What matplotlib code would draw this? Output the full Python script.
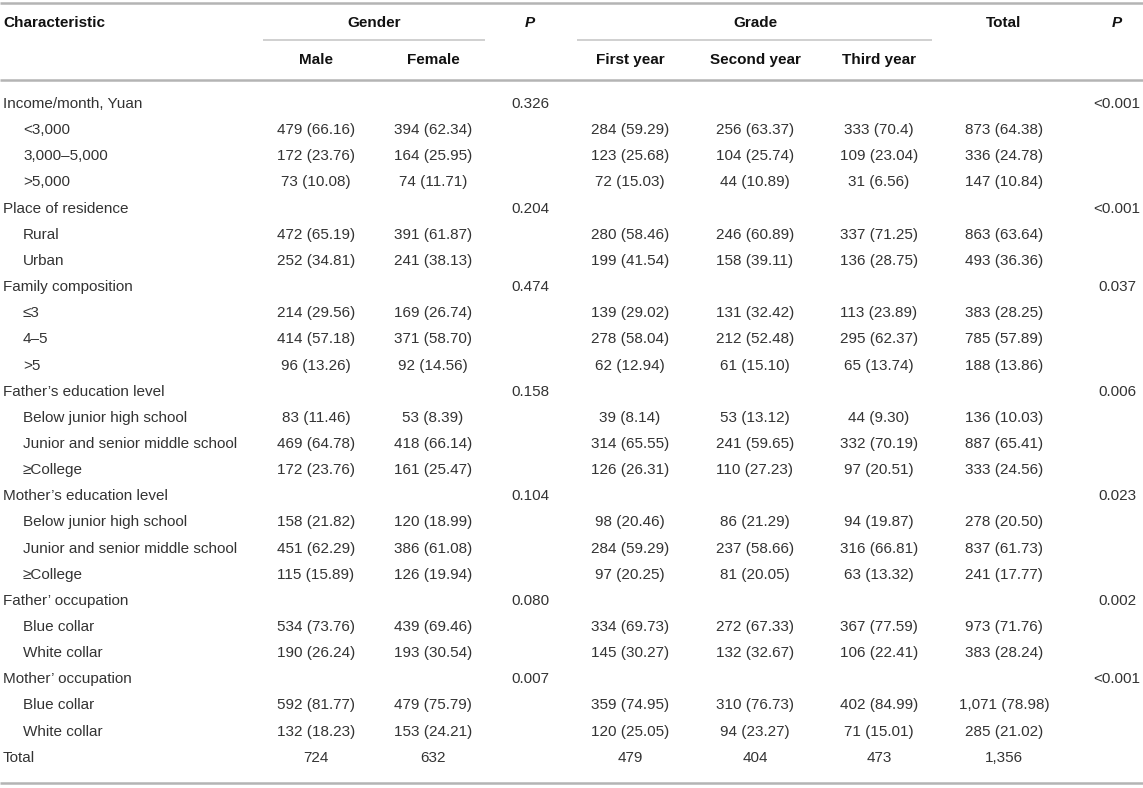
import matplotlib
matplotlib.use('Agg')
import matplotlib.pyplot as plt

plt.rcParams['font.family'] = ['Liberation Sans', 'DejaVu Sans']

# ── 표 데이터 ─────────────────────────────────────────────
labels = [
    "Income/month, Yuan", "<3,000", "3,000–5,000", ">5,000",
    "Place of residence", "Rural", "Urban",
    "Family composition", "≤3", "4–5", ">5",
    "Father’s education level", "Below junior high school",
    "Junior and senior middle school", "≥College",
    "Mother’s education level", "Below junior high school",
    "Junior and senior middle school", "≥College",
    "Father’ occupation", "Blue collar", "White collar",
    "Mother’ occupation", "Blue collar", "White collar",
    "Total",
]
# 0 = 항목 제목, 1 = 하위 항목(들여쓰기)
indent = [0, 1, 1, 1, 0, 1, 1, 0, 1, 1, 1, 0, 1, 1, 1,
          0, 1, 1, 1, 0, 1, 1, 0, 1, 1, 0]

male = ["", "479 (66.16)", "172 (23.76)", "73 (10.08)",
        "", "472 (65.19)", "252 (34.81)",
        "", "214 (29.56)", "414 (57.18)", "96 (13.26)",
        "", "83 (11.46)", "469 (64.78)", "172 (23.76)",
        "", "158 (21.82)", "451 (62.29)", "115 (15.89)",
        "", "534 (73.76)", "190 (26.24)",
        "", "592 (81.77)", "132 (18.23)",
        "724"]
female = ["", "394 (62.34)", "164 (25.95)", "74 (11.71)",
          "", "391 (61.87)", "241 (38.13)",
          "", "169 (26.74)", "371 (58.70)", "92 (14.56)",
          "", "53 (8.39)", "418 (66.14)", "161 (25.47)",
          "", "120 (18.99)", "386 (61.08)", "126 (19.94)",
          "", "439 (69.46)", "193 (30.54)",
          "", "479 (75.79)", "153 (24.21)",
          "632"]
p_gender = ["0.326", "", "", "",
            "0.204", "", "",
            "0.474", "", "", "",
            "0.158", "", "", "",
            "0.104", "", "", "",
            "0.080", "", "",
            "0.007", "", "",
            ""]
first_year = ["", "284 (59.29)", "123 (25.68)", "72 (15.03)",
              "", "280 (58.46)", "199 (41.54)",
              "", "139 (29.02)", "278 (58.04)", "62 (12.94)",
              "", "39 (8.14)", "314 (65.55)", "126 (26.31)",
              "", "98 (20.46)", "284 (59.29)", "97 (20.25)",
              "", "334 (69.73)", "145 (30.27)",
              "", "359 (74.95)", "120 (25.05)",
              "479"]
second_year = ["", "256 (63.37)", "104 (25.74)", "44 (10.89)",
               "", "246 (60.89)", "158 (39.11)",
               "", "131 (32.42)", "212 (52.48)", "61 (15.10)",
               "", "53 (13.12)", "241 (59.65)", "110 (27.23)",
               "", "86 (21.29)", "237 (58.66)", "81 (20.05)",
               "", "272 (67.33)", "132 (32.67)",
               "", "310 (76.73)", "94 (23.27)",
               "404"]
third_year = ["", "333 (70.4)", "109 (23.04)", "31 (6.56)",
              "", "337 (71.25)", "136 (28.75)",
              "", "113 (23.89)", "295 (62.37)", "65 (13.74)",
              "", "44 (9.30)", "332 (70.19)", "97 (20.51)",
              "", "94 (19.87)", "316 (66.81)", "63 (13.32)",
              "", "367 (77.59)", "106 (22.41)",
              "", "402 (84.99)", "71 (15.01)",
              "473"]
total = ["", "873 (64.38)", "336 (24.78)", "147 (10.84)",
         "", "863 (63.64)", "493 (36.36)",
         "", "383 (28.25)", "785 (57.89)", "188 (13.86)",
         "", "136 (10.03)", "887 (65.41)", "333 (24.56)",
         "", "278 (20.50)", "837 (61.73)", "241 (17.77)",
         "", "973 (71.76)", "383 (28.24)",
         "", "1,071 (78.98)", "285 (21.02)",
         "1,356"]
p_grade = ["<0.001", "", "", "",
           "<0.001", "", "",
           "0.037", "", "", "",
           "0.006", "", "", "",
           "0.023", "", "", "",
           "0.002", "", "",
           "<0.001", "", "",
           ""]

# ── 레이아웃 (픽셀 좌표) ──────────────────────────────────
W, H = 1143, 788
FS = 11
BODY = '#333333'
HEAD = '#111111'
LINE = '#b4b4b4'

col_x = {
    'male': 316, 'female': 433, 'p1': 530,
    'first': 630, 'second': 755, 'third': 879,
    'total': 1004, 'p2': 1117,
}
row_y0, row_dy = 104, 26.15

fig = plt.figure(figsize=(W / 100, H / 100), dpi=100)
ax = fig.add_axes([0, 0, 1, 1])
ax.set_xlim(0, W)
ax.set_ylim(H, 0)
ax.axis('off')

# 헤더
hb = dict(fontsize=FS, fontweight='bold', color=HEAD, va='center')
ax.text(3, 23, "Characteristic", ha='left', **hb)
ax.text(374, 23, "Gender", ha='center', **hb)
ax.text(col_x['p1'], 23, "P", ha='center', style='italic', **hb)
ax.text(755, 23, "Grade", ha='center', **hb)
ax.text(col_x['total'], 23, "Total", ha='center', **hb)
ax.text(col_x['p2'], 23, "P", ha='center', style='italic', **hb)
for key, name in [('male', "Male"), ('female', "Female"),
                  ('first', "First year"), ('second', "Second year"),
                  ('third', "Third year")]:
    ax.text(col_x[key], 60, name, ha='center', **hb)

# 가로선
ax.plot([0, W], [3, 3], color=LINE, lw=1.8, solid_capstyle='butt')
ax.plot([0, W], [80, 80], color=LINE, lw=1.8, solid_capstyle='butt')
ax.plot([263, 485], [40, 40], color='#c4c4c4', lw=1.1, solid_capstyle='butt')
ax.plot([577, 932], [40, 40], color='#c4c4c4', lw=1.1, solid_capstyle='butt')

# 본문
columns = [('male', male), ('female', female), ('p1', p_gender),
           ('first', first_year), ('second', second_year),
           ('third', third_year), ('total', total), ('p2', p_grade)]
for i, label in enumerate(labels):
    y = row_y0 + i * row_dy
    ax.text(3 + 20 * indent[i], y, label, ha='left', va='center',
            fontsize=FS, color=BODY)
    for key, values in columns:
        if values[i]:
            ax.text(col_x[key], y, values[i], ha='center', va='center',
                    fontsize=FS, color=BODY)

bottom = row_y0 + (len(labels) - 1) * row_dy + 25
ax.plot([0, W], [bottom, bottom], color=LINE, lw=1.8, solid_capstyle='butt')

fig.savefig('out.png', dpi=100)
plt.close(fig)
